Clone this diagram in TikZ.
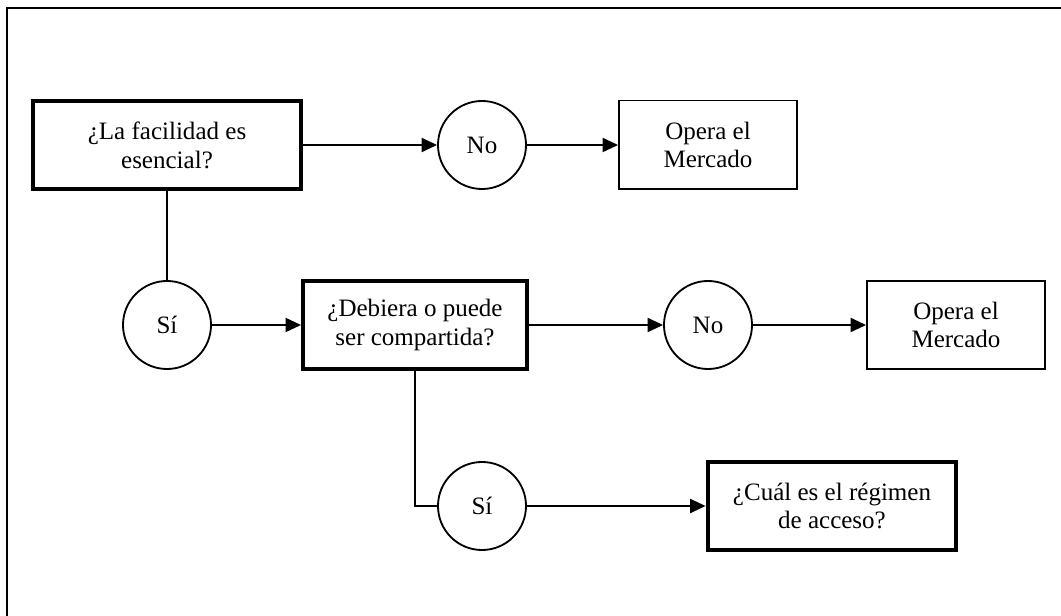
\documentclass[tikz,border=0pt]{standalone}
\usepackage{fontspec}
\setmainfont{Liberation Serif}
\usetikzlibrary{arrows.meta}

\begin{document}
\begin{tikzpicture}[x=0.025cm,y=-0.025cm,
  every node/.style={font=\fontsize{17.8}{20.5}\selectfont,align=center,inner sep=0pt},
  pregunta/.style={draw,line width=2.8pt,rectangle,minimum height=2.2cm},
  respuesta/.style={draw,line width=1.3pt,circle,minimum size=2.2cm},
  salida/.style={draw,line width=1.3pt,rectangle,minimum width=4.45cm,minimum height=2.22cm},
  flecha/.style={line width=1.3pt,-{Triangle[length=11pt,width=10pt]}}]
\useasboundingbox (0,0) rectangle (1061,616);
\draw[line width=1.5pt] (1061,8) -| (7,616);

\node[pregunta,minimum width=6.7cm] (esencial) at (167,145) {¿La facilidad es\\esencial?};
\node[respuesta] (no1) at (482,145) {No};
\node[salida] (mercado1) at (708,145) {Opera el\\Mercado};

\node[respuesta] (si1) at (167,325) {Sí};
\node[pregunta,minimum width=5.6cm] (compartida) at (415,325) {¿Debiera o puede\\ser compartida?};
\node[respuesta] (no2) at (708,325) {No};
\node[salida] (mercado2) at (956,325) {Opera el\\Mercado};

\node[respuesta] (si2) at (482,506) {Sí};
\node[pregunta,minimum width=6.22cm] (regimen) at (832,506) {¿Cuál es el régimen\\de acceso?};

\draw[flecha] (esencial) -- (no1);
\draw[flecha] (no1) -- (mercado1);
\draw[line width=1.3pt] (esencial) -- (si1);
\draw[flecha] (si1) -- (compartida);
\draw[flecha] (compartida) -- (no2);
\draw[flecha] (no2) -- (mercado2);
\draw[line width=1.3pt] (compartida.south) |- (si2.west);
\draw[flecha] (si2) -- (regimen);
\end{tikzpicture}
\end{document}
